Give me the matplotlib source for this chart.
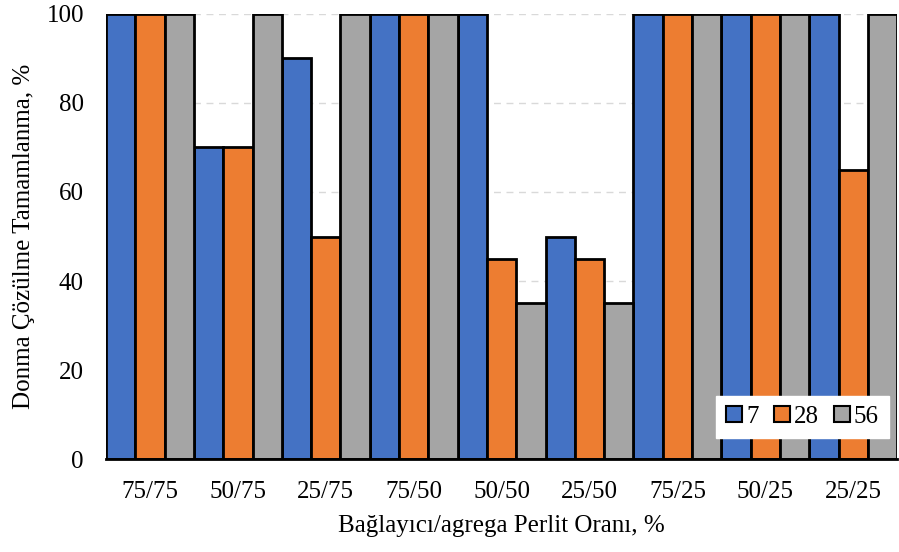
import numpy as np
import matplotlib.pyplot as plt

categories = ["75/75", "50/75", "25/75", "75/50", "50/50", "25/50", "75/25", "50/25", "25/25"]
series_names = ["7", "28", "56"]
vals_7 = [100, 70, 90, 100, 100, 50, 100, 100, 100]
vals_28 = [100, 70, 50, 100, 45, 45, 100, 100, 65]
vals_56 = [100, 100, 100, 100, 35, 35, 100, 100, 100]
colors = ["#4472C4", "#ED7D31", "#A5A5A5"]

plt.rcParams['font.family'] = ['Liberation Serif', 'DejaVu Serif']

fig = plt.figure(figsize=(8.99, 5.52), dpi=100)
ax = fig.add_axes([0.118, 0.168, 0.88, 0.807])

x = np.arange(len(categories))
w = 1/3
for i, (vals, c, name) in enumerate(zip([vals_7, vals_28, vals_56], colors, series_names)):
    ax.bar(x + (i - 1)*w, vals, width=w, color=c, edgecolor="black", linewidth=2, label=name, zorder=3)

ax.set_xlim(-0.5, len(categories) - 0.5)
ax.set_ylim(0, 100)
ax.set_yticks([0, 20, 40, 60, 80, 100])
ax.set_xticks(x)
ax.set_xticklabels(categories)
ax.tick_params(axis='both', length=0, labelsize=18)
ax.tick_params(axis='x', pad=16)
ax.tick_params(axis='y', pad=16)
ax.yaxis.grid(True, linestyle=(0, (5, 4)), color="#D9D9D9", linewidth=1, zorder=0)
for s in ["top", "right", "left"]:
    ax.spines[s].set_visible(False)
ax.spines["bottom"].set_linewidth(2)
ax.spines["bottom"].set_zorder(4)

ax.set_xlabel("Bağlayıcı/agrega Perlit Oranı, %", fontsize=18, labelpad=8)
ax.set_ylabel("Donma Çözülme Tamamlanma, %", fontsize=18, labelpad=8)

leg = ax.legend(loc="lower right", ncol=3, fontsize=18, frameon=True, fancybox=False,
                edgecolor="white", framealpha=1, handlelength=0.65, handleheight=0.65,
                handletextpad=0.15, columnspacing=0.6, borderpad=0.4,
                bbox_to_anchor=(1.005, 0.02))
leg.set_zorder(5)
for h in leg.legend_handles:
    h.set_linewidth(1.5)

fig.savefig("out.png", dpi=100)
